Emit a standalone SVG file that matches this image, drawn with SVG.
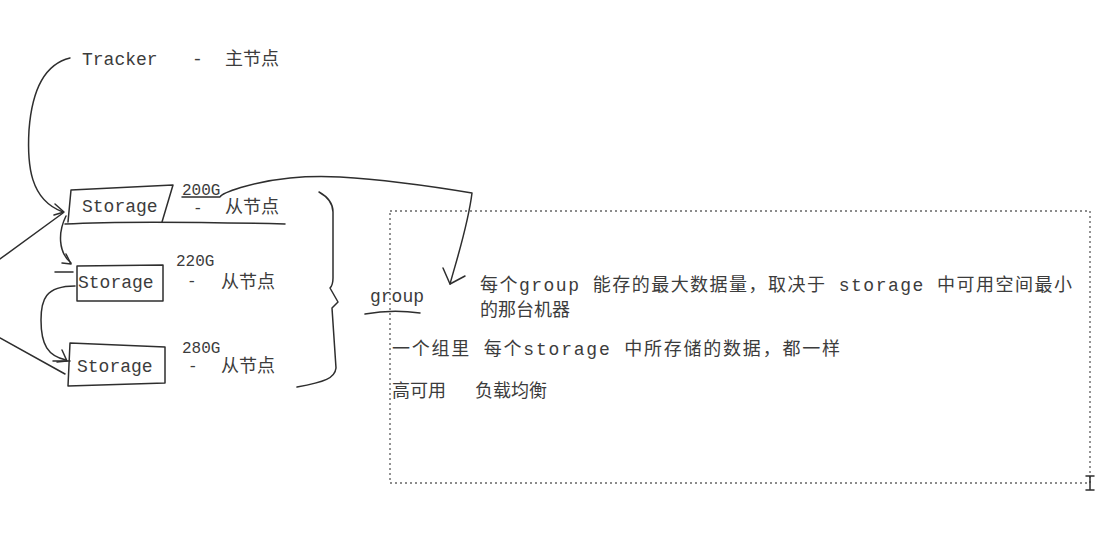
<svg xmlns="http://www.w3.org/2000/svg" width="1107" height="533" viewBox="0 0 1107 533">
<style>
text{font-family:"Liberation Mono","Noto Sans CJK SC",monospace;font-size:18px;fill:#3c3c3c}
.cn{font-family:"Noto Sans CJK SC",sans-serif;font-size:18px}
.sm{font-size:16px}
.ink{fill:none;stroke:#2e2e2e;stroke-width:1.5;stroke-linecap:round;stroke-linejoin:round}
.dot{fill:none;stroke:#666;stroke-width:1.4;stroke-dasharray:2 3}
</style>
<rect width="1107" height="533" fill="#fff"/>
<g id="tracker">
<text x="82" y="65">Tracker</text>
<text x="192" y="65">-</text>
<text class="cn" x="225" y="65">主节点</text>
</g>
<g id="storage1">
<path class="ink" d="M71,190 L173,185 L162,222 M71,190 L68,222"/>
<text x="82" y="212">Storage</text>
<text class="sm" x="182" y="195">200G</text>
<text class="sm" x="193" y="213">-</text>
<text class="cn" x="225" y="213">从节点</text>
</g>
<g id="storage2">
<path class="ink" d="M77,266 L163,265 L163,301 L77,301 Z"/>
<text x="78" y="288">Storage</text>
<text class="sm" x="176" y="266">220G</text>
<text class="sm" x="187" y="286">-</text>
<text class="cn" x="221" y="288">从节点</text>
</g>
<g id="storage3">
<path class="ink" d="M70,343 L165,347 L165,383 L68,386 Z"/>
<text x="77" y="372">Storage</text>
<text class="sm" x="182" y="353">280G</text>
<text class="sm" x="188" y="371">-</text>
<text class="cn" x="221" y="372">从节点</text>
</g>
<g id="group-label">
<text x="370" y="302">group</text>
<path class="ink" d="M365,314 Q392,309 420,313"/>
</g>
<g id="note-box">
<rect class="dot" x="390" y="211" width="700" height="272"/>
<text x="480" y="291" textLength="592" lengthAdjust="spacing">每个group 能存的最大数据量，取决于 storage 中可用空间最小</text>
<text class="cn" x="480" y="316">的那台机器</text>
<text x="392" y="355" textLength="448" lengthAdjust="spacing">一个组里 每个storage 中所存储的数据，都一样</text>
<text class="cn" x="392" y="397">高可用</text>
<text class="cn" x="475" y="397">负载均衡</text>
<path class="ink" d="M1086,476 L1094,476 M1090,476 L1090,490 M1086,490 L1094,490" stroke-width="1.2"/>
</g>
<g id="connectors">
<path class="ink" d="M70,58 C45,64 32,90 29,130 C27,165 30,200 63,212"/>
<path class="ink" d="M55,204 L64,212 L54,215"/>
<path class="ink" d="M65,224 C120,221 200,222 285,224"/>
<path class="ink" d="M66,216 C58,232 58,252 71,263"/>
<path class="ink" d="M66,254 L71,264 L62,263"/>
<path class="ink" d="M55,272 L73,272"/>
<path class="ink" d="M75,286 C45,286 41,300 41,320 C41,345 48,356 66,360"/>
<path class="ink" d="M62,350 L67,361 L57,362"/>
<path class="ink" d="M53,361 L70,361"/>
<path class="ink" d="M0,259 L63,213"/>
<path class="ink" d="M0,338 L65,374"/>
<path class="ink" d="M182,197 L220,197 C222,193 250,182 290,178 C310,176 320,176 340,177 C390,180 430,186 472,193 C468,225 458,255 450,284"/>
<path class="ink" d="M443,268 L450,284 L465,276"/>
<path class="ink" d="M319,192 C328,197 333,203 333,212 L333,278 Q333,285 330,288 L338,302 L332,308 L336,368 C335,378 325,382 297,387"/>
</g>
</svg>
